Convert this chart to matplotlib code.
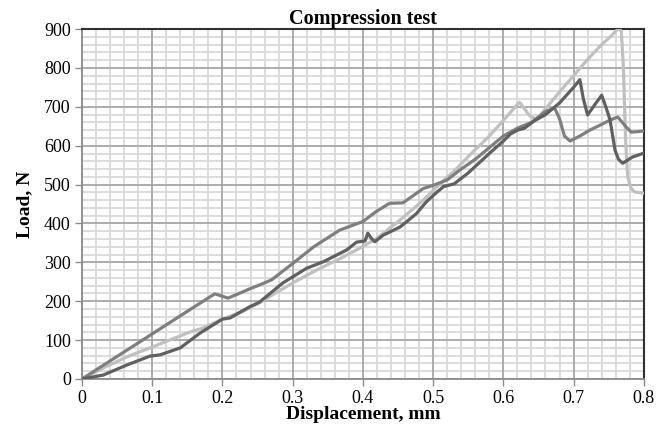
import matplotlib
matplotlib.use('Agg')
import matplotlib.pyplot as plt
import numpy as np
from matplotlib.ticker import MultipleLocator, FuncFormatter

plt.rcParams['font.family'] = ['Liberation Serif', 'DejaVu Serif']

# light gray specimen
light_x = [0, 0.03, 0.064, 0.101, 0.154, 0.172, 0.2, 0.23, 0.253, 0.27, 0.3, 0.334,
           0.37, 0.396, 0.42, 0.453, 0.486, 0.505, 0.53, 0.55, 0.58, 0.6, 0.623,
           0.638, 0.648, 0.66, 0.68, 0.7, 0.72, 0.74, 0.755, 0.764, 0.768, 0.771,
           0.774, 0.777, 0.782, 0.787, 0.8]
light_y = [0, 28, 57, 83, 121, 131, 154, 175, 196, 215, 247, 280,
           312, 337, 362, 409, 460, 494, 535, 572, 625, 665, 712,
           676, 668, 695, 738, 780, 822, 860, 885, 902, 895, 800,
           620, 520, 490, 481, 478]

# medium gray specimen
mid_x = [0, 0.05, 0.1, 0.15, 0.189, 0.198, 0.208, 0.225, 0.239, 0.253, 0.27, 0.3,
         0.33, 0.367, 0.4, 0.42, 0.438, 0.457, 0.486, 0.5, 0.52, 0.54, 0.56,
         0.58, 0.6, 0.62, 0.64, 0.66, 0.673, 0.68, 0.687, 0.695, 0.71, 0.723,
         0.74, 0.752, 0.763, 0.775, 0.782, 0.79, 0.8]
mid_y = [0, 58, 116, 174, 219, 214, 208, 221, 232, 242, 255, 297,
         340, 383, 405, 432, 452, 453, 490, 498, 512, 540, 565,
         595, 625, 645, 660, 688, 697, 670, 625, 612, 626, 640,
         655, 666, 674, 648, 635, 636, 638]

# dark gray specimen
dark_x = [0, 0.03, 0.064, 0.097, 0.111, 0.14, 0.168, 0.2, 0.211, 0.239, 0.253,
          0.286, 0.32, 0.343, 0.377, 0.391, 0.403, 0.407, 0.412, 0.417, 0.429,
          0.453, 0.476, 0.49, 0.505, 0.515, 0.53, 0.55, 0.58, 0.6, 0.61, 0.62, 0.63,
          0.645, 0.66, 0.68, 0.7, 0.709, 0.714, 0.72, 0.73, 0.74, 0.746, 0.752,
          0.759, 0.764, 0.77, 0.777, 0.784, 0.8]
dark_y = [0, 10, 36, 59, 62, 80, 118, 154, 157, 186, 198,
          247, 285, 301, 332, 352, 355, 375, 362, 353, 370,
          391, 425, 455, 480, 495, 502, 530, 580, 612, 630, 640, 645,
          665, 680, 710, 750, 770, 720, 679, 705, 730, 700, 666,
          589, 565, 555, 563, 571, 581]

fig = plt.figure(figsize=(6.72, 4.28), dpi=100)
ax = fig.add_axes([0.122, 0.1145, 0.836, 0.8175])

ax.set_xlim(0, 0.8)
ax.set_ylim(0, 900)
ax.xaxis.set_major_locator(MultipleLocator(0.1))
ax.yaxis.set_major_locator(MultipleLocator(100))
ax.xaxis.set_major_formatter(FuncFormatter(lambda v, p: '%g' % round(v, 2)))

# graph-paper grid: light minor lines, darker major lines drawn on top
minor_x = np.arange(0, 0.8001, 0.02)
minor_y = np.arange(0, 900.1, 20)
ax.vlines(minor_x, 0, 900, color='#d9d9d9', lw=1.3, zorder=0)
ax.hlines(minor_y, 0, 0.8, color='#d9d9d9', lw=1.3, zorder=0)
ax.vlines(np.arange(0, 0.8001, 0.1), 0, 900, color='#a0a0a0', lw=1.1, zorder=1)
ax.hlines(np.arange(0, 900.1, 100), 0, 0.8, color='#a0a0a0', lw=1.1, zorder=1)

ax.plot(light_x, light_y, color='#c0c0c0', lw=2.3, solid_joinstyle='round', zorder=3)
ax.plot(mid_x, mid_y, color='#7f7f7f', lw=2.3, solid_joinstyle='round', zorder=4)
ax.plot(dark_x, dark_y, color='#606060', lw=2.3, solid_joinstyle='round', zorder=5)

for side in ['left', 'bottom']:
    ax.spines[side].set_color('#8c8c8c')
    ax.spines[side].set_linewidth(1.3)
for side in ['top', 'right']:
    ax.spines[side].set_color('#303030')
    ax.spines[side].set_linewidth(1.5)

ax.tick_params(which='major', direction='out', length=5, width=1, color='#8c8c8c',
               labelsize=13, pad=3)

ax.set_title('Compression test', fontsize=14.5, fontweight='bold', pad=3)
ax.set_xlabel('Displacement, mm', fontsize=14, fontweight='bold', labelpad=-1)
ax.set_ylabel('Load, N', fontsize=14, fontweight='bold', labelpad=8)

fig.savefig('out.png', dpi=100)
